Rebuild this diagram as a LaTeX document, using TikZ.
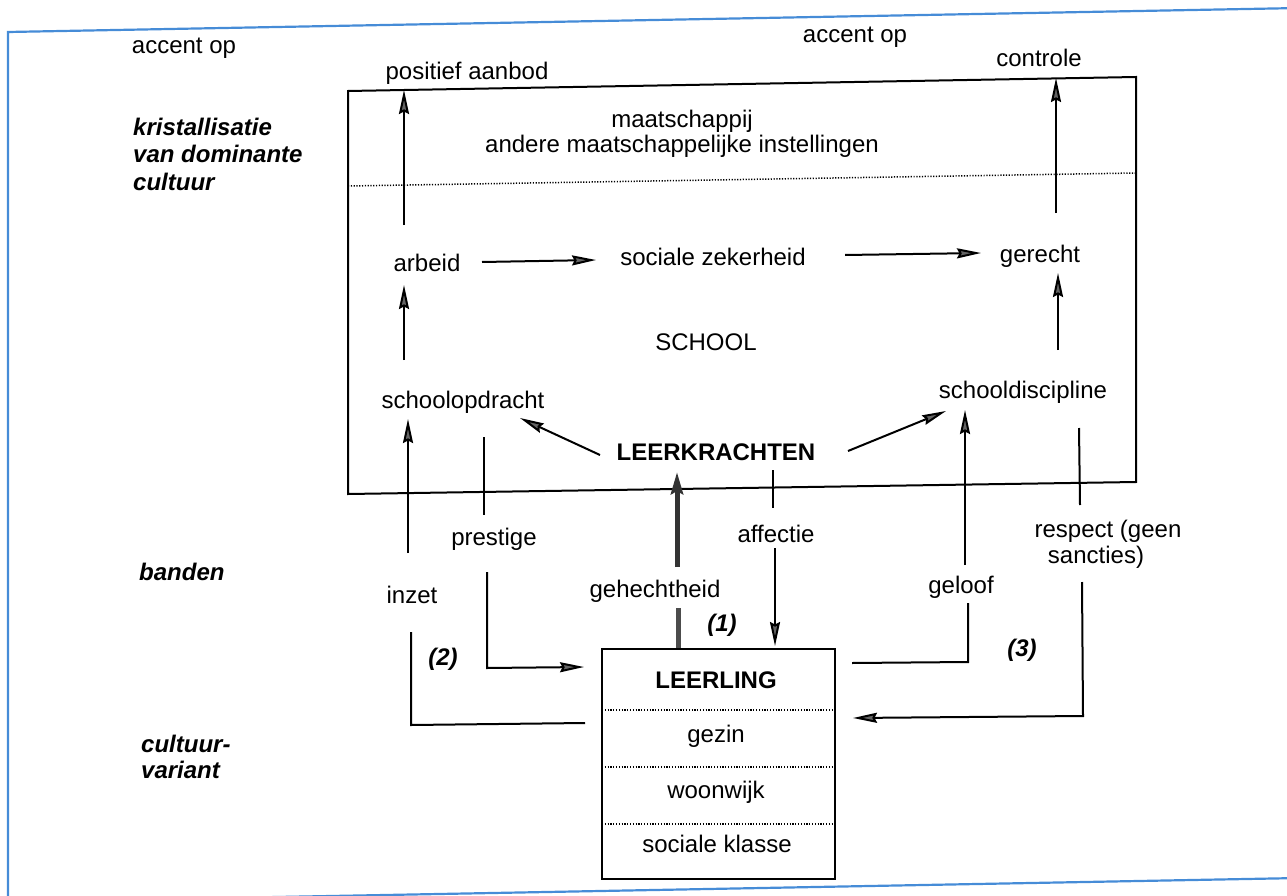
\documentclass[tikz,border=0pt]{standalone}
\usepackage{fontspec}
\setmainfont{Liberation Sans}
\usetikzlibrary{arrows.meta}
\definecolor{frameblue}{RGB}{70,140,215}
\definecolor{headgray}{RGB}{100,100,100}
\begin{document}
\begin{tikzpicture}[x=1pt,y=-1pt,
  font=\fontsize{24}{28}\selectfont,
  txt/.style={anchor=base,inner sep=0pt},
  bld/.style={txt,font=\fontsize{24}{28}\selectfont\bfseries},
  side/.style={anchor=base west,inner sep=0pt,font=\fontsize{24}{28}\selectfont\bfseries\itshape},
  num/.style={txt,font=\fontsize{24}{28}\selectfont\bfseries\itshape},
  ln/.style={line width=2pt},
  arr/.style={ln,-{Stealth[length=24pt,width=10pt,inset=2.5pt,fill=headgray]}},
  thickarr/.style={line width=5pt,black!80,-{Stealth[length=22pt,width=12pt,inset=3pt,fill=headgray]}},
  thickln/.style={line width=5pt,black!70},
  dots/.style={line width=1.5pt,dash pattern=on 1.2pt off 1.6pt},
  frame/.style={frameblue,line width=2.2pt}
]
\useasboundingbox (0,0) rectangle (1287,896);

% outer frame
\coordinate (fTL) at (8,32);
\coordinate (fTR) at (1300,8);
\coordinate (fBL) at (8,902);
\coordinate (fBR) at (1300,878);
\draw[frame] (fTR) -- (fTL) -- (fBL) -- (fBR);

% SCHOOL box
\coordinate (sTL) at (348,91);
\coordinate (sTR) at (1136,77);
\coordinate (sBR) at (1136,482);
\coordinate (sBL) at (348,494);
\draw[ln] (sTL) -- (sTR) -- (sBR) -- (sBL) -- cycle;
\coordinate (dL) at (348,186);
\coordinate (dR) at (1136,173);
\draw[dots] (dL) -- (dR);

% LEERLING box
\coordinate (lTL) at (602,649);
\coordinate (lBR) at (835,879);
\draw[ln] (lTL) rectangle (lBR);
\foreach \yy/\nm in {710/a,767/b,824/c}{
  \coordinate (ll\nm) at (602,\yy);
  \coordinate (lr\nm) at (835,\yy);
  \draw[dots] (ll\nm) -- (lr\nm);
}

% texts
\node[txt] (accentL) at (184,54) {accent op};
\node[txt] (accentR) at (855,43) {accent op};
\node[txt] (positief) at (467,80) {positief aanbod};
\node[txt] (controle) at (1039,67) {controle};
\node[txt] (maatsch) at (682,128) {maatschappij};
\node[txt] (andere) at (682,153) {andere maatschappelijke instellingen};
\node[side] (kris1) at (133,136) {kristallisatie};
\node[side] (kris2) at (133,163) {van dominante};
\node[side] (kris3) at (133,191) {cultuur};
\node[txt] (arbeid) at (427,271) {arbeid};
\node[txt] (sz) at (713,265) {sociale zekerheid};
\node[txt] (gerecht) at (1040,262) {gerecht};
\node[txt] (school) at (706,350) {SCHOOL};
\node[txt] (opdracht) at (463,408) {schoolopdracht};
\node[txt] (discipline) at (1023,398) {schooldiscipline};
\node[bld] (leerkr) at (716,460) {LEERKRACHTEN};
\node[txt] (prestige) at (494,545) {prestige};
\node[txt] (affectie) at (776,542) {affectie};
\node[txt] (inzet) at (412,603) {inzet};
\node[txt] (gehecht) at (655,597) {gehechtheid};
\node[txt] (geloof) at (961,593) {geloof};
\node[txt] (respect1) at (1108,537) {respect (geen};
\node[txt] (respect2) at (1096,563) {sancties)};
\node[side] (banden) at (139,580) {banden};
\node[side] (cv1) at (141,752) {cultuur-};
\node[side] (cv2) at (141,778) {variant};
\node[num] (n1) at (722,631) {(1)};
\node[num] (n2) at (443,665) {(2)};
\node[num] (n3) at (1022,656) {(3)};
\node[bld] (leerling) at (716,688) {LEERLING};
\node[txt] (gezin) at (716,742) {gezin};
\node[txt] (woonwijk) at (716,798) {woonwijk};
\node[txt] (klasse) at (717,852) {sociale klasse};

% connectors inside school
\coordinate (arbU0) at (404,225); \coordinate (arbU1) at (404,90);
\draw[arr] (arbU0) -- (arbU1);
\coordinate (gerU0) at (1056,213); \coordinate (gerU1) at (1056,78);
\draw[arr] (gerU0) -- (gerU1);
\coordinate (opA0) at (404,360); \coordinate (opA1) at (404,285);
\draw[arr] (opA0) -- (opA1);
\coordinate (diG0) at (1058,350); \coordinate (diG1) at (1058,273);
\draw[arr] (diG0) -- (diG1);
\coordinate (arS0) at (482,262); \coordinate (arS1) at (596,260);
\draw[arr] (arS0) -- (arS1);
\coordinate (szG0) at (845,255); \coordinate (szG1) at (981,253);
\draw[arr] (szG0) -- (szG1);
\coordinate (lkO0) at (600,455); \coordinate (lkO1) at (520,418);
\draw[arr] (lkO0) -- (lkO1);
\coordinate (lkD0) at (848,451); \coordinate (lkD1) at (946,411);
\draw[arr] (lkD0) -- (lkD1);

% inzet
\coordinate (inz0) at (585,723); \coordinate (inz1) at (411,725); \coordinate (inz2) at (411,632);
\draw[ln] (inz0) -- (inz1) -- (inz2);
\coordinate (inz3) at (408,553); \coordinate (inz4) at (408,419);
\draw[arr] (inz3) -- (inz4);

% prestige
\coordinate (pr0) at (484,437); \coordinate (pr1) at (484,515);
\draw[ln] (pr0) -- (pr1);
\coordinate (pr2) at (487,572); \coordinate (pr3) at (487,668); \coordinate (pr4) at (584,667);
\draw[arr] (pr2) -- (pr3) -- (pr4);

% gehechtheid
\coordinate (ge0) at (678,608); \coordinate (ge1) at (678,648);
\draw[thickln] (ge0) -- (ge1);
\coordinate (ge2) at (677,567); \coordinate (ge3) at (677,472);
\draw[thickarr] (ge2) -- (ge3);

% affectie
\coordinate (af0) at (773,470); \coordinate (af1) at (773,508);
\draw[ln] (af0) -- (af1);
\coordinate (af2) at (775,548); \coordinate (af3) at (775,646);
\draw[arr] (af2) -- (af3);

% geloof
\coordinate (gl0) at (852,663); \coordinate (gl1) at (968,662); \coordinate (gl2) at (968,603);
\draw[ln] (gl0) -- (gl1) -- (gl2);
\coordinate (gl3) at (965,565); \coordinate (gl4) at (965,410);
\draw[arr] (gl3) -- (gl4);

% respect
\coordinate (rs0) at (1079,428); \coordinate (rs1) at (1080,505);
\draw[ln] (rs0) -- (rs1);
\coordinate (rs2) at (1082,582); \coordinate (rs3) at (1083,716); \coordinate (rs4) at (853,718);
\draw[arr] (rs2) -- (rs3) -- (rs4);
\end{tikzpicture}
\end{document}
